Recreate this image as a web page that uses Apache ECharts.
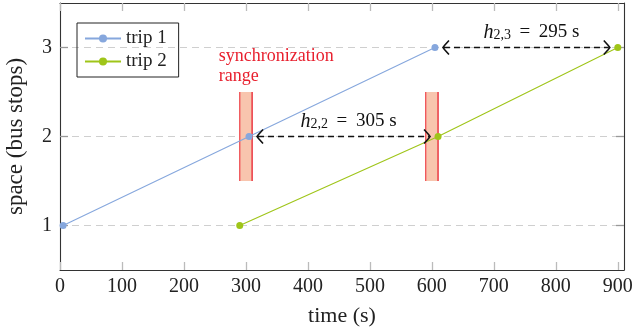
<!DOCTYPE html>
<html><head><meta charset="utf-8">
<script src="https://cdn.jsdelivr.net/npm/echarts@6/dist/echarts.min.js"></script>
<style>html,body{margin:0;padding:0;background:#fff}#c{width:635px;height:333px}</style>
</head><body><div id="c"></div>
<script>
// ---- data ----
const seriesNames = ['trip 1', 'trip 2'];
const trip1Time = [5, 305, 605];
const trip1Stop = [1, 2, 3];
const trip2Time = [290, 610, 900];
const trip2Stop = [1, 2, 3];
const syncStart = [290, 590];
const syncEnd = [310, 610];
const syncStopLow = [1.5, 1.5];
const syncStopHigh = [2.5, 2.5];
const headwayFrom = [305, 605];
const headwayTo = [610, 900];
const headwayStop = [2, 3];
const headwaySub = ['2,2', '2,3'];
const headwayValue = [305, 295];
const xTicks = [0, 100, 200, 300, 400, 500, 600, 700, 800, 900];
const yTicks = [1, 2, 3];
const syncLabelText = 'synchronization\nrange';
const syncLabelAt = [256, 2.79];

const FONT = 'Liberation Serif';
const BLUE = '#86a7dd';
const GREEN = '#9fc519';

const chart = echarts.init(document.getElementById('c'), null, {renderer: 'canvas'});

function xAxisDef(pos, withLabels) {
  return {
    type: 'value', position: pos, min: 0, max: 910,
    axisLine: {show: true, onZero: false, lineStyle: {color: '#333', width: 1.1}},
    axisTick: {show: true, inside: true, length: 8, customValues: xTicks, lineStyle: {color: '#bbb', width: 1.3}},
    axisLabel: {show: withLabels, customValues: xTicks, fontFamily: FONT, fontSize: 20, color: '#222', margin: 7},
    splitLine: {show: false},
    name: withLabels ? 'time (s)' : '', nameLocation: 'middle', nameGap: 35,
    nameTextStyle: {fontFamily: FONT, fontSize: 22, color: '#222'}
  };
}
function yAxisDef(pos, withLabels) {
  return {
    type: 'value', position: pos, min: 0.5, max: 3.5,
    axisLine: {show: true, onZero: false, lineStyle: {color: '#333', width: 1.1}},
    axisTick: {show: true, inside: true, length: 8, customValues: yTicks, lineStyle: {color: '#999', width: 1.3}},
    axisLabel: {show: withLabels, customValues: yTicks, fontFamily: FONT, fontSize: 20, color: '#222', margin: 8},
    splitLine: {show: withLabels, lineStyle: {color: '#cfcfcf', width: 1, type: [7, 5]}},
    name: withLabels ? 'space (bus stops)' : '', nameLocation: 'middle', nameGap: 33,
    nameTextStyle: {fontFamily: FONT, fontSize: 23, color: '#222'}
  };
}

const option = {
  animation: false,
  backgroundColor: '#fff',
  grid: {left: 60, right: 11, top: 3, bottom: 63, containLabel: false, outerBoundsMode: 'none'},
  legend: {
    data: seriesNames, orient: 'vertical', left: 77, top: 23,
    borderColor: '#222', borderWidth: 1, padding: [6, 12, 6, 7], itemGap: 4,
    itemWidth: 36, itemHeight: 10,
    textStyle: {fontFamily: FONT, fontSize: 19, color: '#222'}
  },
  xAxis: [xAxisDef('bottom', true), xAxisDef('top', false)],
  yAxis: [yAxisDef('left', true), yAxisDef('right', false)],
  series: [
    {
      type: 'custom', name: 'sync', z: 1, silent: true,
      encode: {x: [0, 1], y: [2, 3]},
      data: syncStart.map((s, i) => [s, syncEnd[i], syncStopLow[i], syncStopHigh[i]]),
      renderItem: function (params, api) {
        const p1 = api.coord([api.value(0), api.value(3)]);
        const p2 = api.coord([api.value(1), api.value(2)]);
        return {type: 'group', children: [
          {type: 'rect', shape: {x: p1[0], y: p1[1], width: p2[0] - p1[0], height: p2[1] - p1[1]}, style: {fill: '#f8c5ae'}},
          {type: 'line', shape: {x1: p1[0], y1: p1[1], x2: p1[0], y2: p2[1]}, style: {stroke: '#f0585c', lineWidth: 1.4}},
          {type: 'line', shape: {x1: p2[0], y1: p1[1], x2: p2[0], y2: p2[1]}, style: {stroke: '#e8202e', lineWidth: 1.3}}
        ]};
      }
    },
    {
      type: 'line', name: seriesNames[0], z: 3,
      data: trip1Time.map((t, i) => [t, trip1Stop[i]]),
      symbol: 'circle', symbolSize: 7, showSymbol: true,
      itemStyle: {color: BLUE}, lineStyle: {color: BLUE, width: 1.1}
    },
    {
      type: 'line', name: seriesNames[1], z: 3,
      data: trip2Time.map((t, i) => [t, trip2Stop[i]]),
      symbol: 'circle', symbolSize: 7, showSymbol: true,
      itemStyle: {color: GREEN}, lineStyle: {color: GREEN, width: 1.1}
    },
    {
      type: 'custom', name: 'headway', z: 4, silent: true,
      encode: {x: [0, 1], y: 2},
      data: headwayFrom.map((f, i) => [f, headwayTo[i], headwayStop[i], headwayValue[i]]),
      renderItem: function (params, api) {
        const a = api.coord([api.value(0), api.value(2)]);
        const b = api.coord([api.value(1), api.value(2)]);
        const gap = 8, y = a[1];
        const x1 = a[0] + gap, x2 = b[0] - gap;
        const sub = headwaySub[params.dataIndex];
        const val = api.value(3);
        const st = {stroke: '#111', lineWidth: 1.6, fill: null};
        return {type: 'group', children: [
          {type: 'line', shape: {x1: x1 + 1, y1: y, x2: x2 - 1, y2: y}, style: Object.assign({lineDash: [6, 4]}, st)},
          {type: 'polyline', shape: {points: [[x1 + 6, y - 7], [x1 + 1.5, y - 2], [x1, y], [x1 + 1.5, y + 2], [x1 + 6, y + 7]]}, style: st},
          {type: 'polyline', shape: {points: [[x2 - 6, y - 7], [x2 - 1.5, y - 2], [x2, y], [x2 - 1.5, y + 2], [x2 - 6, y + 7]]}, style: st},
          {type: 'text', x: (x1 + x2) / 2 + 5, y: y - 15, style: {
            text: '{h|h}{s|' + sub + '}{n| \u2009=\u2009 ' + val + ' s}',
            align: 'center', verticalAlign: 'middle', fill: '#111',
            rich: {
              h: {fontFamily: FONT, fontStyle: 'italic', fontSize: 20, lineHeight: 20, fill: '#111'},
              s: {fontFamily: FONT, fontSize: 14, verticalAlign: 'bottom', fill: '#111'},
              n: {fontFamily: FONT, fontSize: 19, lineHeight: 20, fill: '#111'}
            }
          }}
        ]};
      }
    },
    {
      type: 'custom', name: 'note', z: 5, silent: true,
      encode: {x: 0, y: 1},
      data: [[syncLabelAt[0], syncLabelAt[1]]],
      renderItem: function (params, api) {
        const p = api.coord([api.value(0), api.value(1)]);
        return {type: 'text', x: p[0], y: p[1], style: {
          text: syncLabelText, fontFamily: FONT, fontSize: 18, lineHeight: 20,
          fill: '#e8202e', align: 'left', verticalAlign: 'middle'
        }};
      }
    }
  ]
};
chart.setOption(option);
</script>
</body></html>
